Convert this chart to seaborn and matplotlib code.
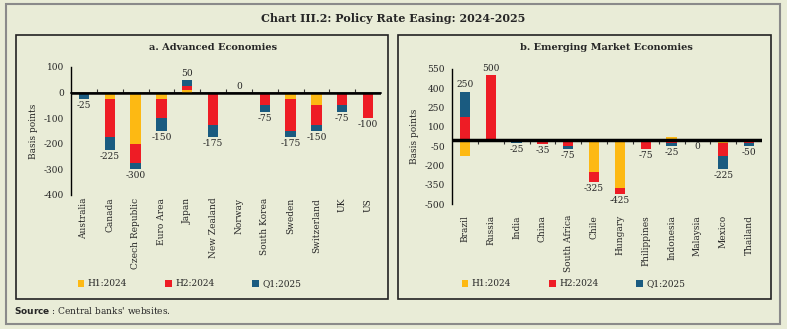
import numpy as np
import pandas as pd
import seaborn as sns
import matplotlib
matplotlib.use("Agg")
import matplotlib.pyplot as plt
from matplotlib.patches import Patch, Rectangle

# ---------------- data ----------------
series_names = ["H1:2024", "H2:2024", "Q1:2025"]

adv_countries = ["Australia", "Canada", "Czech Republic", "Euro Area", "Japan",
                 "New Zealand", "Norway", "South Korea", "Sweden", "Switzerland",
                 "UK", "US"]
adv_h1 = [0, -25, -200, -25, 10, 0, 0, 0, -25, -50, 0, 0]
adv_h2 = [0, -150, -75, -75, 15, -125, 0, -50, -125, -75, -50, -100]
adv_q1 = [-25, -50, -25, -50, 25, -50, 0, -25, -25, -25, -25, 0]
adv_total = [-25, -225, -300, -150, 50, -175, 0, -75, -175, -150, -75, -100]

eme_countries = ["Brazil", "Russia", "India", "China", "South Africa", "Chile",
                 "Hungary", "Philippines", "Indonesia", "Malaysia", "Mexico",
                 "Thailand"]
eme_h1 = [-125, 0, 0, 0, 0, -250, -375, 0, 25, 0, -25, 0]
eme_h2 = [175, 500, 0, -35, -50, -75, -50, -75, -25, 0, -100, -25]
eme_q1 = [200, 0, -25, 0, -25, 0, 0, 0, -25, 0, -100, -25]
eme_total = [250, 500, -25, -35, -75, -325, -425, -75, -25, 0, -225, -50]

adv_yticks = [100, 0, -100, -200, -300, -400]
eme_yticks = [550, 400, 250, 100, -50, -200, -350, -500]

# ---------------- style ----------------
BG = "#E9ECD7"
COLORS = ["#FDB913", "#EE1C25", "#1A5B80"]
FONT = "DejaVu Serif"

sns.set_theme(style="white")
plt.rcParams["font.family"] = [FONT]
plt.rcParams["axes.facecolor"] = BG
plt.rcParams["figure.facecolor"] = BG

fig = plt.figure(figsize=(7.87, 3.29), dpi=100)

# outer frame and panel frames
fig.add_artist(Rectangle((0.0076, 0.0152), 0.9835, 0.9726, transform=fig.transFigure,
                         fill=False, edgecolor="#8a8a8a", lw=1.5))
fig.add_artist(Rectangle((16 / 787, 30 / 329), 372 / 787, 264 / 329, transform=fig.transFigure,
                         fill=False, edgecolor="#222222", lw=1.2))
fig.add_artist(Rectangle((398 / 787, 30 / 329), 373 / 787, 264 / 329, transform=fig.transFigure,
                         fill=False, edgecolor="#222222", lw=1.2))

fig.text(0.5, 1 - 19 / 329, "Chart III.2: Policy Rate Easing: 2024-2025",
         ha="center", va="center", fontsize=8, fontweight="bold")
fig.text(14 / 787, 1 - 310 / 329, r"$\bf{Source}$ : Central banks' websites.",
         ha="left", va="center", fontsize=6.5)


def draw_panel(ax, countries, vals, totals, yticks, ylim, title, title_x,
               zero_above, xlabel_pad, zero_lw):
    # diverging stacked bars: draw cumulative sums from 0, largest first
    vals = np.array(vals, dtype=float)
    pos = np.cumsum(np.clip(vals, 0, None), axis=0)
    neg = np.cumsum(np.clip(vals, None, 0), axis=0)
    for i in range(len(vals) - 1, -1, -1):
        for layer in (pos[i], neg[i]):
            df = pd.DataFrame({"country": countries, "value": layer})
            sns.barplot(data=df, x="country", y="value", color=COLORS[i],
                        saturation=1, width=0.4, errorbar=None, ax=ax,
                        order=countries, linewidth=0)
    ax.axhline(0, color="black", lw=zero_lw, zorder=5)
    ax.set_ylim(*ylim)
    n = len(countries)
    ax.set_xlim(-0.5, n - 0.5)
    ax.set_yticks(yticks)
    ax.set_yticklabels([str(t) for t in yticks], fontsize=6.5)
    ax.tick_params(axis="y", direction="out", length=3, width=0.8, color="black", pad=2)
    ax.tick_params(axis="x", length=0, pad=xlabel_pad)
    ax.set_xticks(range(n))
    ax.set_xticklabels(countries, rotation=90, fontsize=6.5, va="top")
    ax.set_xlabel("")
    ax.set_ylabel("Basis points", fontsize=6.5, labelpad=4)
    for s in ("top", "right", "bottom"):
        ax.spines[s].set_visible(False)
    ax.spines["left"].set_color("black")
    ax.spines["left"].set_linewidth(1.0)
    # small category-boundary ticks on the zero line
    zero_frac = (0 - ylim[0]) / (ylim[1] - ylim[0])
    sec = ax.secondary_xaxis(zero_frac)
    sec.set_xticks([k + 0.5 for k in range(n - 1)])
    sec.set_xticklabels([])
    sec.tick_params(axis="x", direction="out", length=3, width=0.8, color="#333333")
    sec.spines["bottom"].set_visible(False)
    # value labels
    for k, tot in enumerate(totals):
        if tot > 0 or (tot == 0 and zero_above):
            y = pos[-1][k]
            ax.annotate(str(tot), (k, y), xytext=(0, 1.5), textcoords="offset points",
                        ha="center", va="bottom", fontsize=6.5)
        else:
            y = neg[-1][k]
            ax.annotate(str(tot), (k, y), xytext=(0, -1.5), textcoords="offset points",
                        ha="center", va="top", fontsize=6.5)
    fig.text(title_x, 1 - 48 / 329, title, ha="center", va="center",
             fontsize=7, fontweight="bold")


ax1 = fig.add_axes([71 / 787, (329 - 195) / 329, 310 / 787, 128 / 329])
draw_panel(ax1, adv_countries, [adv_h1, adv_h2, adv_q1], adv_total,
           adv_yticks, (-400, 100), "a. Advanced Economies", 213 / 787,
           zero_above=True, xlabel_pad=2, zero_lw=1.8)

ax2 = fig.add_axes([452 / 787, (329 - 204) / 329, 310 / 787, 135 / 329])
draw_panel(ax2, eme_countries, [eme_h1, eme_h2, eme_q1], eme_total,
           eme_yticks, (-500, 550), "b. Emerging Market Economies", 606 / 787,
           zero_above=False, xlabel_pad=8, zero_lw=2.5)

handles = [Patch(facecolor=c, edgecolor="none", label=n) for c, n in zip(COLORS, series_names)]
for left in (78 / 787, 462 / 787):
    fig.legend(handles=handles, loc="center left", bbox_to_anchor=(left, 1 - 284 / 329),
               ncol=3, frameon=False, fontsize=6.5, handlelength=0.7, handleheight=0.9,
               handletextpad=0.4, columnspacing=4.2, borderpad=0, borderaxespad=0)

fig.savefig("out.png", dpi=100, facecolor=BG)
